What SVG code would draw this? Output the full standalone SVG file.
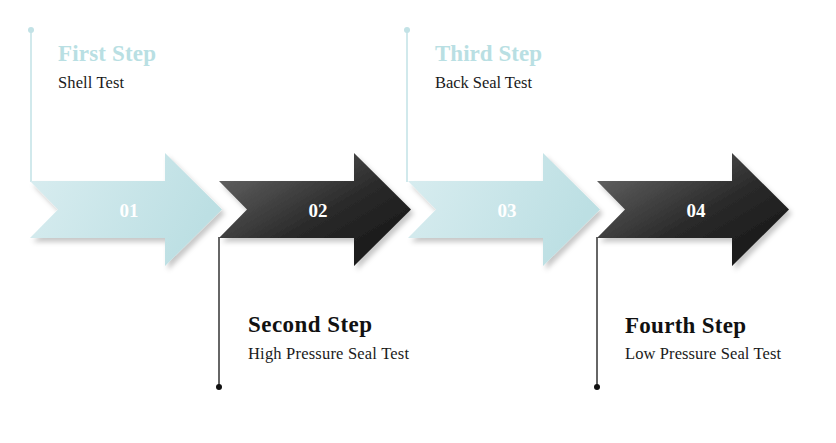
<svg xmlns="http://www.w3.org/2000/svg" width="836" height="443" viewBox="0 0 836 443">
<defs>
<linearGradient id="gLight" x1="0" y1="0" x2="1" y2="0.3">
<stop offset="0" stop-color="#d9edf0"/>
<stop offset="1" stop-color="#bcdfe3"/>
</linearGradient>
<linearGradient id="gDark" x1="0" y1="0" x2="1" y2="1">
<stop offset="0" stop-color="#6e6e6e"/>
<stop offset="0.55" stop-color="#2a2a2a"/>
<stop offset="1" stop-color="#111111"/>
</linearGradient>
<filter id="shadow" x="-10%" y="-10%" width="130%" height="140%">
<feDropShadow dx="3" dy="4" stdDeviation="2.5" flood-color="#000" flood-opacity="0.22"/>
</filter>
<path id="arrowShape" d="M0,0 H135 V-28 L192,28.5 L135,85 V57 H0 L28,28.5 Z"/>
</defs>
<style>
.light{fill:url(#gLight);filter:url(#shadow)}
.dark{fill:url(#gDark);filter:url(#shadow)}
.num{font-family:"Liberation Serif","DejaVu Serif",serif;font-weight:bold;font-size:19px;fill:#fff;text-anchor:middle}
.title{font-family:"Liberation Serif","DejaVu Serif",serif;font-weight:bold;font-size:23px}
.tl{fill:#b9dfe3}
.td{fill:#111}
.sub{font-family:"Liberation Serif","DejaVu Serif",serif;font-size:16.5px;fill:#1a1a1a}
.lineL{stroke:#c2e2e6;stroke-width:1.5;fill:none}
.lineD{stroke:#333;stroke-width:1.5;fill:none}
</style>
<rect width="836" height="443" fill="#fff"/>
<g id="connectors">
<line class="lineL" x1="31" y1="30" x2="31" y2="182"/>
<circle cx="31" cy="30" r="3" fill="#c2e2e6"/>
<line class="lineD" x1="219" y1="237" x2="219" y2="387"/>
<circle cx="219" cy="387" r="3" fill="#111"/>
<line class="lineL" x1="407" y1="30" x2="407" y2="182"/>
<circle cx="407" cy="30" r="3" fill="#c2e2e6"/>
<line class="lineD" x1="597" y1="237" x2="597" y2="387"/>
<circle cx="597" cy="387" r="3" fill="#111"/>
</g>
<g id="node1">
<use href="#arrowShape" class="light" transform="translate(30,181)"/>
<text class="num" x="129" y="217">01</text>
<text class="title tl" x="58" y="61" textLength="98">First Step</text>
<text class="sub" x="58" y="88" textLength="66">Shell Test</text>
</g>
<g id="node2">
<use href="#arrowShape" class="dark" transform="translate(219,181)"/>
<text class="num" x="318" y="217">02</text>
<text class="title td" x="248" y="332" textLength="124">Second Step</text>
<text class="sub" x="248" y="359" textLength="161">High Pressure Seal Test</text>
</g>
<g id="node3">
<use href="#arrowShape" class="light" transform="translate(408,181)"/>
<text class="num" x="507" y="217">03</text>
<text class="title tl" x="435" y="61" textLength="107">Third Step</text>
<text class="sub" x="435" y="88" textLength="97">Back Seal Test</text>
</g>
<g id="node4">
<use href="#arrowShape" class="dark" transform="translate(597,181)"/>
<text class="num" x="696" y="217">04</text>
<text class="title td" x="625" y="333" textLength="121">Fourth Step</text>
<text class="sub" x="625" y="359" textLength="156">Low Pressure Seal Test</text>
</g>
</svg>
